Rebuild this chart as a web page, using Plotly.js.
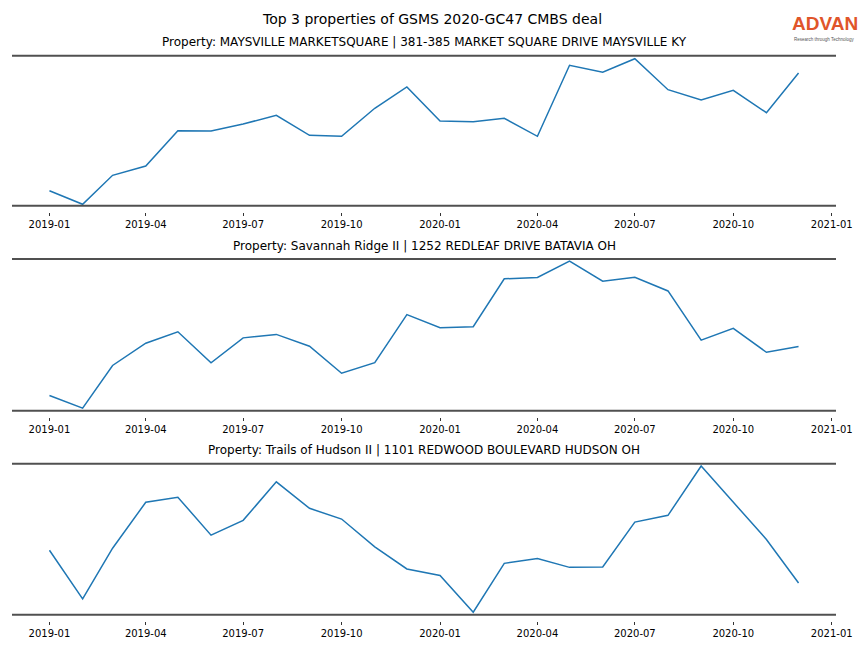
<!DOCTYPE html>
<html>
<head>
<meta charset="utf-8">
<script src="https://cdn.plot.ly/plotly-3.0.1.min.js"></script>
<style>html,body{margin:0;padding:0;background:#fff;}#chart{width:864px;height:648px;}</style>
</head>
<body>
<div id="chart"></div>
<script>
// Monthly dates (2019-01 .. 2020-12)
const months = ["2019-01-01","2019-02-01","2019-03-01","2019-04-01","2019-05-01","2019-06-01",
  "2019-07-01","2019-08-01","2019-09-01","2019-10-01","2019-11-01","2019-12-01",
  "2020-01-01","2020-02-01","2020-03-01","2020-04-01","2020-05-01","2020-06-01",
  "2020-07-01","2020-08-01","2020-09-01","2020-10-01","2020-11-01","2020-12-01"];

// Relative values (no y scale shown)
const maysville = [15, 1.4, 30.4, 39.7, 75, 74.7, 81.7, 90.4, 70.4, 69.4, 97.4, 118.7,
  84.7, 84, 87.4, 69.4, 140.4, 133.4, 147, 116, 105.7, 115.4, 93, 132.7];
const savannah = [15, 2.4, 44.7, 66.7, 78, 47.4, 72, 75.4, 63.7, 37, 47.4, 95,
  82, 83, 130.4, 131.7, 148, 128, 132, 118.4, 69.7, 81.4, 57.7, 63.4];
const hudson = [64, 15.7, 66, 111.7, 116.7, 79, 93.7, 132, 105.7, 95, 67.4, 45.4,
  39, 2.4, 51, 55.7, 47, 47.4, 92, 98.7, 147.7, 111.7, 74.7, 31.4];

const seriesList = [maysville, savannah, hudson];
const subtitles = [
  "Property: MAYSVILLE MARKETSQUARE | 381-385 MARKET SQUARE DRIVE MAYSVILLE KY",
  "Property: Savannah Ridge II | 1252 REDLEAF DRIVE BATAVIA OH",
  "Property: Trails of Hudson II | 1101 REDWOOD BOULEVARD HUDSON OH"
];
const mainTitle = "Top 3 properties of GSMS 2020-GC47 CMBS deal";
const tickVals = ["2019-01-01","2019-04-01","2019-07-01","2019-10-01","2020-01-01",
  "2020-04-01","2020-07-01","2020-10-01","2021-01-01"];
const tickText = ["2019-01","2019-04","2019-07","2019-10","2020-01","2020-04","2020-07","2020-10","2021-01"];

const H = 648;
// panel pixel extents (top line, plot bottom incl. tick gap)
const panelPx = [[55.7, 211.7], [259, 416.7], [463.7, 620.7]];
const titleY = [42, 246, 450];

const font = "DejaVu Sans, sans-serif";
const data = [];
const layout = {
  width: 864, height: 648,
  margin: {l: 12, r: 28, t: 0, b: 0},
  paper_bgcolor: "#fff", plot_bgcolor: "#fff",
  showlegend: false,
  font: {family: font, color: "#000"},
  shapes: [], annotations: []
};

seriesList.forEach((vals, i) => {
  const n = i === 0 ? "" : String(i + 1);
  data.push({
    x: months, y: vals, type: "scatter", mode: "lines",
    line: {color: "#1f77b4", width: 1.5},
    xaxis: "x" + n, yaxis: "y" + n, hoverinfo: "skip"
  });
  const [top, bot] = panelPx[i];
  layout["xaxis" + n] = {
    domain: [0, 1], anchor: "y" + n,
    range: ["2018-11-27", "2021-01-05"],
    type: "date",
    tickvals: tickVals, ticktext: tickText,
    ticks: "outside", ticklen: 3.5, tickwidth: 1, tickcolor: "#333",
    tickfont: {size: 10, family: font, color: "#000"},
    showline: false, showgrid: false, zeroline: false
  };
  layout["yaxis" + n] = {
    domain: [1 - bot / H, 1 - top / H], anchor: "x" + n,
    range: [-6, 150],
    showticklabels: false, ticks: "", showgrid: false, zeroline: false, showline: false
  };
  layout.shapes.push({type: "line", xref: "x" + n + " domain", yref: "y" + n,
    x0: 0, x1: 1, y0: 0, y1: 0, line: {color: "#505050", width: 2}});
  layout.shapes.push({type: "line", xref: "x" + n + " domain", yref: "paper",
    x0: 0, x1: 1, y0: 1 - top / H, y1: 1 - top / H, line: {color: "#505050", width: 2}});
  layout.annotations.push({
    text: subtitles[i], xref: "paper", yref: "paper",
    x: 0.5, y: 1 - titleY[i] / H, xanchor: "center", yanchor: "middle",
    showarrow: false, font: {size: 12, family: font, color: "#000"}
  });
});

layout.annotations.push({
  text: mainTitle, xref: "paper", yref: "paper",
  x: (432 - 12) / (864 - 40), y: 1 - 19.5 / H, xanchor: "center", yanchor: "middle",
  showarrow: false, font: {size: 14, family: font, color: "#000"}
});
// Logo
layout.annotations.push({
  text: "<b>ADVAN</b>", xref: "paper", yref: "paper",
  x: (825 - 12) / 824, y: 1 - 35 / H, xanchor: "center", yanchor: "bottom",
  showarrow: false, borderpad: 0,
  font: {size: 19, family: "Liberation Sans, Arial, sans-serif", color: "#e0552a"}
});
layout.annotations.push({
  text: "Research through Technology", xref: "paper", yref: "paper",
  x: (824 - 12) / 824, y: 1 - 36 / H, xanchor: "center", yanchor: "top",
  showarrow: false, borderpad: 0,
  font: {size: 4.5, family: "Liberation Sans, Arial, sans-serif", color: "#555"}
});

Plotly.newPlot("chart", data, layout, {displayModeBar: false, staticPlot: true});
</script>
</body>
</html>
